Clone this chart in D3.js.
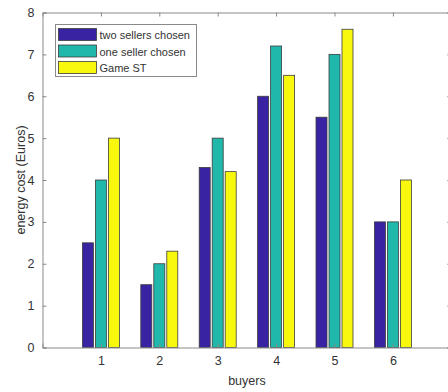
<!DOCTYPE html>
<html>
<head>
<meta charset="utf-8">
<script src="https://cdn.jsdelivr.net/npm/d3@7"></script>
<style>
  html, body { margin: 0; padding: 0; background: #fff; }
  svg { display: block; font-family: "Liberation Sans", Arial, sans-serif; }
</style>
</head>
<body>
<svg id="chart" width="448" height="392"></svg>
<script>
// Energy cost per buyer for each seller-selection scheme
const buyers = [1, 2, 3, 4, 5, 6];
const seriesNames = ["two sellers chosen", "one seller chosen", "Game ST"];
const twoSellers = [2.5, 1.5, 4.3, 6.0, 5.5, 3.0];
const oneSeller = [4.0, 2.0, 5.0, 7.2, 7.0, 3.0];
const gameST = [5.0, 2.3, 4.2, 6.5, 7.6, 4.0];
const seriesColors = ["#3a23a3", "#1fb8ab", "#f8f80f"];
const yTicks = [0, 1, 2, 3, 4, 5, 6, 7, 8];

const series = [twoSellers, oneSeller, gameST];

const svg = d3.select("#chart");
const plotLeft = 42.5, plotTop = 12.5, plotBottom = 347.5;

const x = d3.scaleLinear().domain([0, 7]).range([plotLeft, plotLeft + 7 * 58.4]);
const y = d3.scaleLinear().domain([0, 8]).range([plotBottom, plotTop]);

const axisColor = "#8a8a8a";
const textColor = "#333";

// bars
const barW = 11, step = 13;
series.forEach((vals, si) => {
  svg.append("g").selectAll("rect")
    .data(vals)
    .join("rect")
    .attr("x", (d, i) => x(buyers[i]) + (si - 1) * step - barW / 2)
    .attr("y", d => y(d))
    .attr("width", barW)
    .attr("height", d => y(0) - y(d))
    .attr("fill", seriesColors[si])
    .attr("stroke", "#3d3d3d")
    .attr("stroke-width", 0.8);
});

// box axes
const axL = d3.axisLeft(y).tickValues(yTicks).tickFormat(d3.format("d")).tickSize(-4).tickPadding(8);
const axB = d3.axisBottom(x).tickValues(buyers).tickFormat(d3.format("d")).tickSize(-4).tickPadding(9);
const axT = d3.axisTop(x).tickValues(buyers).tickSize(-4).tickFormat("");
const axR = d3.axisRight(y).tickValues(yTicks).tickSize(-4).tickFormat("");

function style(g) {
  g.selectAll("path.domain").attr("stroke", axisColor).attr("stroke-width", 1);
  g.selectAll(".tick line").attr("stroke", axisColor);
  g.selectAll(".tick text").attr("fill", textColor).attr("font-size", 12.5)
    .attr("font-family", "Liberation Sans, Arial, sans-serif");
}

svg.append("g").attr("transform", `translate(${plotLeft},0)`).call(axL).call(style);
svg.append("g").attr("transform", `translate(0,${plotBottom})`).call(axB).call(style);
svg.append("g").attr("transform", `translate(0,${plotTop})`).call(axT).call(style);
svg.append("g").attr("transform", `translate(${x(7)},0)`).call(axR).call(style);

// axis titles
svg.append("text")
  .attr("x", (x(0) + x(7)) / 2).attr("y", 385)
  .attr("text-anchor", "middle").attr("font-size", 12.5).attr("fill", textColor)
  .text("buyers");
svg.append("text")
  .attr("transform", `translate(24.5,${(plotTop + plotBottom) / 2}) rotate(-90)`)
  .attr("text-anchor", "middle").attr("font-size", 12.5).attr("fill", textColor)
  .text("energy cost (Euros)");

// legend
const lg = svg.append("g").attr("transform", "translate(55.5,24.5)");
lg.append("rect").attr("width", 141).attr("height", 52)
  .attr("fill", "#fff").attr("stroke", axisColor).attr("stroke-width", 1);
seriesNames.forEach((name, i) => {
  const row = lg.append("g").attr("transform", `translate(3,${4 + i * 16.5})`);
  row.append("rect").attr("width", 38).attr("height", 12)
    .attr("fill", seriesColors[i]).attr("stroke", "#3d3d3d").attr("stroke-width", 0.8);
  row.append("text").attr("x", 41).attr("y", 10.5)
    .attr("font-size", 11).attr("fill", textColor).text(name);
});
</script>
</body>
</html>
